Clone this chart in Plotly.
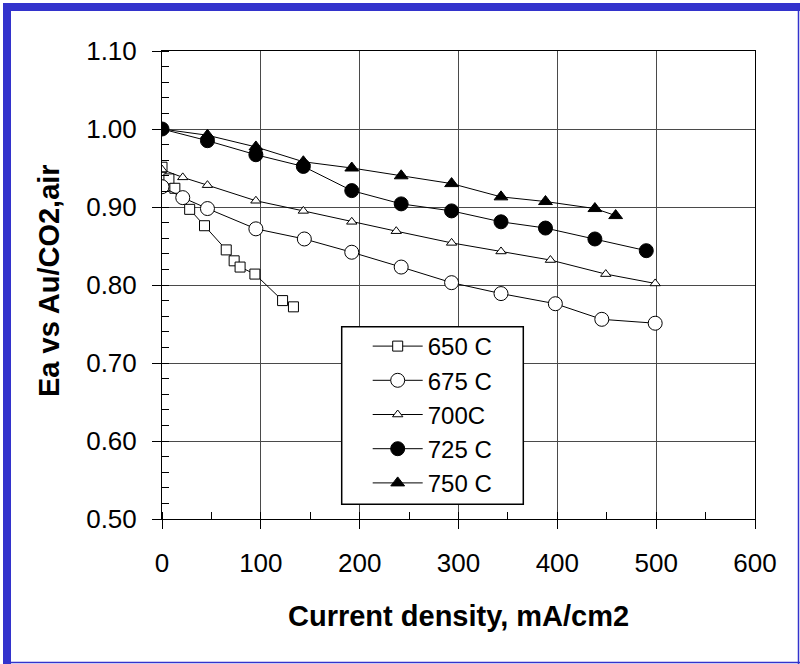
import plotly.graph_objects as go

# ---- data ----
x650 = [0, 7, 13, 28, 43, 65, 73, 79, 94, 122, 133]
y650 = [0.951, 0.936, 0.924, 0.897, 0.876, 0.845, 0.831, 0.823, 0.814, 0.780, 0.772]

x675 = [0, 21, 46, 95, 144, 192, 242, 293, 343, 398, 445, 499]
y675 = [0.926, 0.912, 0.898, 0.872, 0.859, 0.842, 0.823, 0.803, 0.789, 0.776, 0.756, 0.751]

x700 = [0, 21, 46, 95, 143, 192, 237, 293, 343, 393, 449, 499]
y700 = [0.948, 0.938, 0.928, 0.908, 0.895, 0.881, 0.869, 0.854, 0.843, 0.832, 0.814, 0.802]

x725 = [0, 46, 95, 143, 192, 242, 293, 343, 388, 438, 490]
y725 = [1.000, 0.985, 0.967, 0.952, 0.921, 0.904, 0.895, 0.881, 0.873, 0.859, 0.844]

x750 = [0, 46, 95, 143, 192, 242, 293, 343, 388, 438, 459]
y750 = [1.000, 0.992, 0.977, 0.958, 0.950, 0.940, 0.930, 0.913, 0.907, 0.898, 0.889]

names = ["650 C", "675 C", "700C", "725 C", "750 C"]

# ---- layout geometry (pixels) ----
W, H = 800, 664
L, R, T, B = 162, 45, 51, 145
PW = W - L - R
PH = H - T - B


def px_x(p):
    return (p - L) / PW


def px_y(p):
    return (H - B - p) / PH


FONT = "Liberation Sans, Arial, sans-serif"

fig = go.Figure()

styles = [
    dict(symbol="square", size=10, color="white", line=dict(width=1, color="black")),
    dict(symbol="circle", size=14, color="white", line=dict(width=1, color="black")),
    dict(symbol="triangle-up", size=9, color="white", line=dict(width=1, color="black")),
    dict(symbol="circle", size=14, color="black", line=dict(width=1, color="black")),
    dict(symbol="triangle-up", size=12, color="black", line=dict(width=1, color="black")),
]

series = [(x650, y650), (x675, y675), (x700, y700), (x725, y725), (x750, y750)]
for (xs, ys), nm, st in zip(series, names, styles):
    fig.add_trace(go.Scatter(
        x=xs, y=ys, name=nm, mode="lines+markers",
        line=dict(color="black", width=1),
        marker=st, legendgroup=nm,
    ))

axis_common = dict(
    showline=True, linecolor="black", linewidth=1, mirror=True,
    showgrid=True, gridcolor="#4a4a4a", gridwidth=1,
    ticks="outside", ticklen=9, tickcolor="black", tickwidth=1,
    tickfont=dict(family=FONT, size=26, color="black"),
    zeroline=False,
)

fig.update_xaxes(range=[0, 600], dtick=100, tick0=0,
                 minor=dict(dtick=50, ticks="inside", ticklen=7, tickcolor="black", showgrid=False),
                 ticklabelstandoff=12, **axis_common)
fig.update_yaxes(range=[0.5, 1.1], dtick=0.1, tick0=0.5, tickformat=".2f",
                 minor=dict(dtick=0.02, ticks="inside", ticklen=7, tickcolor="black", showgrid=False),
                 ticklabelstandoff=10, **axis_common)

blue = "#3333CC"
shapes = [
    # outer blue frame
    dict(type="rect", xref="paper", yref="paper",
         x0=px_x(3), x1=px_x(11), y0=px_y(664), y1=px_y(3),
         fillcolor=blue, line=dict(width=0), layer="above"),
    dict(type="rect", xref="paper", yref="paper",
         x0=px_x(3), x1=px_x(800), y0=px_y(11), y1=px_y(3),
         fillcolor=blue, line=dict(width=0), layer="above"),
    dict(type="line", xref="paper", yref="paper",
         x0=px_x(798.5), x1=px_x(798.5), y0=px_y(664), y1=px_y(3),
         line=dict(color=blue, width=1.5)),
    dict(type="line", xref="paper", yref="paper",
         x0=px_x(3), x1=px_x(800), y0=px_y(662.5), y1=px_y(662.5),
         line=dict(color=blue, width=1.5)),
    # legend box
    dict(type="rect", xref="paper", yref="paper",
         x0=px_x(341.7), x1=px_x(523.3), y0=px_y(504.3), y1=px_y(326.7),
         fillcolor="white", line=dict(color="black", width=1.5), layer="above"),
]

annotations = [
    dict(text="<b>Current density, mA/cm2</b>", xref="paper", yref="paper",
         x=px_x(458), y=px_y(616), xanchor="center", yanchor="middle",
         showarrow=False, font=dict(family=FONT, size=29, color="black")),
    dict(text="<b>Ea vs Au/CO2,air</b>", xref="paper", yref="paper",
         x=px_x(49), y=px_y(281), xanchor="center", yanchor="middle", textangle=-90,
         showarrow=False, font=dict(family=FONT, size=29, color="black")),
]

fig.update_layout(
    width=W, height=H, autosize=False,
    margin=dict(l=L, r=R, t=T, b=B, pad=0),
    paper_bgcolor="white", plot_bgcolor="white",
    showlegend=True,
    legend=dict(
        x=px_x(367.7), y=px_y(324), xanchor="left", yanchor="top",
        bgcolor="rgba(0,0,0,0)", borderwidth=0,
        font=dict(family=FONT, size=24, color="black"),
        itemwidth=50, traceorder="normal", tracegroupgap=0,
    ),
    shapes=shapes,
    annotations=annotations,
)

fig.write_html(
    "out.html",
    config={"displayModeBar": False},
    post_script="document.body.style.margin='0';document.body.style.overflow='hidden';",
)
